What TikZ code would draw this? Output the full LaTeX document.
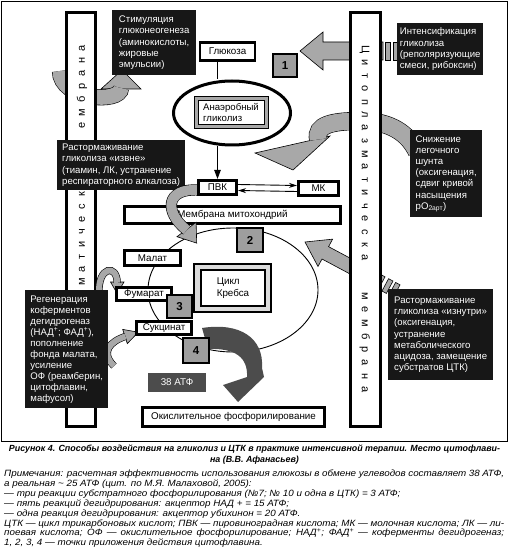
\documentclass[tikz,border=0pt]{standalone}
\usepackage{fontspec}
\setmainfont{Liberation Sans}
\newfontfamily\notefont[FakeStretch=1.08]{Liberation Sans}
\usetikzlibrary{shapes.geometric,arrows.meta}

\definecolor{arrowgray}{gray}{0.66}
\definecolor{numgray}{gray}{0.62}
\definecolor{atpgray}{gray}{0.30}
\definecolor{krebsgray}{gray}{0.86}
\definecolor{boxblack}{gray}{0.09}

\begin{document}
\begin{tikzpicture}[x=1pt,y=-1pt,
		wbox/.style={draw,line width=2.6pt,fill=white,inner sep=0pt,font=\fontsize{9.8}{11}\selectfont},
		bbox/.style={fill=boxblack,text=white,anchor=north west,align=left,inner sep=0pt,font=\fontsize{9.6}{11.2}\selectfont},
		num/.style={draw,line width=1.2pt,fill=numgray,inner sep=0pt,font=\bfseries\fontsize{11.5}{12}\selectfont},
		memb/.style={draw,line width=3.2pt,fill=white,inner sep=0pt},
		letter/.style={inner sep=0pt,text height=7.5pt,text depth=0pt,font=\fontsize{11}{11}\selectfont},
		band/.style={draw=black,line width=0.6pt,double=arrowgray,double distance=#1},
		blockhead/.style={draw=black,line width=0.6pt,fill=arrowgray,line join=miter},
		conn/.style={line width=0.9pt}
	]
	\useasboundingbox (0,0) rectangle (509,548);
	\draw[line width=0.8pt] (1.5,1.5) rectangle (507.5,441);

	% gray arrows behind the membranes
	\draw[blockhead] (101,89) -- (122,70) -- (141,89) -- cycle;
	\draw[band=15pt] (60,71) .. controls (60,100) and (121,104) .. (121,88);
	\draw[blockhead] (300,51) -- (323,32) -- (323,42) -- (383,42) -- (383,60) -- (323,60) -- (323,70) -- cycle;
	\draw[blockhead] (255,153) -- (293,170) -- (330,136) -- cycle;
	\draw[band=17pt] (318.2,139.5) .. controls (315,125) and (332,121) .. (360,121) .. controls (390,121) and (408,133) .. (417,152);
	\begin{scope}[shift={(305,242)},rotate=-28.1]
		\draw[blockhead] (0,0) -- (23,15.5) -- (23,7) -- (87,7) -- (87,-7) -- (23,-7) -- (23,-15.5) -- cycle;
		\draw[blockhead] (91,-7) rectangle (96,7);
		\draw[blockhead] (99,-7) rectangle (104,7);
	\end{scope}

	% membranes
	\node[memb,minimum width=29pt,minimum height=414pt] (lmem) at (81,219.5) {};
	\node[memb,minimum width=30pt,minimum height=414pt] (rmem) at (365.5,219.5) {};
	\foreach \ch [count=\i from 0] in {а,н,а,р,б,м,е}
		\node[letter,rotate=90] (lup\i) at (81,48+12.9*\i) {\ch};
	\foreach \ch [count=\i from 0] in {к,с,е,ч,и,т,а,м}
		\node[letter,rotate=90] (llow\i) at (81,194.5+12.5*\i) {\ch};
	\foreach \ch [count=\i from 0] in {Ц,и,т,о,п,л,а,з,м,а,т,и,ч,е,с,к,а}
		\node[letter,rotate=-90] (rtop\i) at (365.5,50+13*\i) {\ch};
	\foreach \ch [count=\i from 0] in {м,е,м,б,р,а,н,а}
		\node[letter,rotate=-90] (rbot\i) at (365.5,296+13.4*\i) {\ch};
	\draw[blockhead] (385.5,42) rectangle (390,60);
	\draw[blockhead] (393,42) rectangle (397.5,60);

	\node[bbox,minimum width=84pt,minimum height=65pt] (stim) at (112,10) {Стимуляция\\глюконеогенеза\\(аминокислоты,\\жировые\\эмульсии)};
	\node[bbox,minimum width=86pt,minimum height=52pt] (intens) at (397,23) {Интенсификация\\гликолиза\\(реполяризующие\\смеси, рибоксин)};
	\node[bbox,minimum width=72pt,minimum height=87pt] (snizh) at (410,130) {Снижение\\легочного\\шунта\\(оксигенация,\\сдвиг кривой\\насыщения\\pO\textsubscript{2арт})};
	\node[bbox,minimum width=128pt,minimum height=50pt] (rastout) at (57,140) {Растормаживание\\гликолиза «извне»\\(тиамин, ЛК, устранение\\респираторного алкалоза)};
	\node[bbox,minimum width=105pt,minimum height=91pt] (rastin) at (388,289) {Растормаживание\\гликолиза «изнутри»\\(оксигенация,\\устранение\\метаболического\\ацидоза, замещение\\субстратов ЦТК)};

	% glycolysis
	\node[wbox,minimum width=55pt,minimum height=17.5pt] (glu) at (227.5,51.5) {Глюкоза};
	\node[ellipse,draw,line width=3pt,minimum width=117pt,minimum height=64pt,inner sep=0pt] (anaer) at (232,113) {};
	\node[draw,line width=1pt,fill=arrowgray,minimum width=74pt,minimum height=32pt,inner sep=0pt] (anframe) at (231,112.5) {};
	\node[draw,line width=1pt,fill=white,minimum width=66pt,minimum height=24pt,inner sep=0pt,align=left,font=\fontsize{9.6}{10.5}\selectfont] (anin) at (231,112.5) {Анаэробный\\гликолиз};

	% krebs cycle
	\node[ellipse,draw,line width=0.9pt,minimum width=170pt,minimum height=124pt,inner sep=0pt] (loop) at (233,290) {};
	\node[wbox,minimum width=216.5pt,minimum height=17.5pt] (mito) at (232.5,215) {Мембрана митохондрий};
	\draw[blockhead] (176.9,236.7) -- (196.7,243.1) -- (196.1,222.3) -- cycle;
	\draw[band=10pt] (199,190) .. controls (165,188) and (164,212) .. (186.8,230.2);
	\node[wbox,minimum width=38.5pt,minimum height=14.5pt] (pvk) at (217.5,187.5) {ПВК};
	\node[wbox,minimum width=40.5pt,minimum height=14.5pt] (mk) at (318.5,188.5) {МК};

	\draw[blockhead] (110.5,282) -- (117.2,293.5) -- (124,282) -- cycle;
	\draw[band=6pt] (99,293) .. controls (98,266) and (117.2,264) .. (117.2,282.8);
	\draw[blockhead] (127.3,343.6) -- (138.3,332.2) -- (122.7,329.4) -- cycle;
	\draw[band=6pt] (114,366) .. controls (100,352) and (110,341.5) .. (125.5,336.4);
	\node[bbox,minimum width=83pt,minimum height=118pt,font=\fontsize{9.6}{11}\selectfont] (regen) at (25,290) {Регенерация\\коферментов\\дегидрогеназ\\(НАД\textsuperscript{+}; ФАД\textsuperscript{+}),\\пополнение\\фонда малата,\\усиление\\ОФ (реамберин,\\цитофлавин,\\мафусол)};

	\fill[atpgray] (202,328) .. controls (240,322) and (264,338) .. (262,368) -- (264,377) -- (238,402) -- (223,385) -- (247,377) .. controls (248,357) and (235,348) .. (208,349) -- cycle;
	\node[wbox,minimum width=56.5pt,minimum height=15.5pt] (malat) at (152.5,258) {Малат};
	\node[wbox,minimum width=55.5pt,minimum height=13.5pt] (fum) at (144,294) {Фумарат};
	\node[wbox,minimum width=55.5pt,minimum height=13.5pt] (suk) at (164,328) {Сукцинат};
	\node[draw,line width=2.4pt,fill=krebsgray,minimum width=76.5pt,minimum height=47.5pt,inner sep=0pt] (krebs) at (232.5,288) {};
	\node[draw,line width=2.4pt,fill=white,minimum width=63.5pt,minimum height=35.5pt,inner sep=0pt,align=left,font=\fontsize{9.8}{11.5}\selectfont] (krebsin) at (233,288) {Цикл\\Кребса};

	\node[num,minimum width=24pt,minimum height=23pt] (n1) at (285,65.5) {1};
	\node[num,minimum width=26pt,minimum height=24pt] (n2) at (250,240) {2};
	\node[num,minimum width=25pt,minimum height=23pt] (n3) at (179.5,306.5) {3};
	\node[num,minimum width=26pt,minimum height=25pt] (n4) at (196,350.5) {4};
	\node[fill=atpgray,text=white,minimum width=58pt,minimum height=19pt,inner sep=0pt,font=\fontsize{9.8}{11}\selectfont] (atp) at (177,382.5) {38 АТФ};
	\node[wbox,minimum width=182.5pt,minimum height=19.5pt] (oxphos) at (233.5,417) {Окислительное фосфорилирование};

	\draw[conn] (glu.south -| pvk) -- (anaer.north -| pvk);
	\draw[conn,-{Triangle[length=9pt,width=6.5pt]}] (anaer.south -| pvk) -- (pvk.north);
	\draw[conn,-{Stealth[length=8pt,width=5pt]}] ([yshift=3pt]pvk.east) -- ([yshift=3pt]mk.west);
	\draw[conn,-{Stealth[length=8pt,width=5pt]}] ([yshift=-3pt]mk.west) -- ([yshift=-3pt]pvk.east);

	\node[inner sep=0pt,anchor=north] (caption) at (254.5,445) {\parbox{502pt}{\centering\bfseries\itshape\fontsize{8.9}{10.8}\selectfont Рисунок 4. Способы воздействия на гликолиз и ЦТК в практике интенсивной терапии. Место цитофлави-\\на (В.В. Афанасьев)}};
	\node[inner sep=0pt,anchor=north west] (notes) at (4,470) {\parbox{500pt}{\notefont\itshape\fontsize{9.1}{9.85}\selectfont
		Примечания: расчетная эффективность использования глюкозы в обмене углеводов составляет 38 АТФ,\linebreak
		а реальная \textasciitilde{} 25 АТФ (цит. по М.Я. Малаховой, 2005):\\
		— три реакции субстратного фосфорилирования (№7; № 10 и одна в ЦТК) = 3 АТФ;\\
		— пять реакций дегидрирования: акцептор НАД + = 15 АТФ;\\
		— одна реакция дегидрирования: акцептор убихинон = 20 АТФ.\\
		ЦТК — цикл трикарбоновых кислот; ПВК — пировиноградная кислота; МК — молочная кислота; ЛК — ли-\linebreak
		поевая кислота; ОФ — окислительное фосфорилирование; НАД\textsuperscript{+}; ФАД\textsuperscript{+} — коферменты дегидрогеназ;\linebreak
		1, 2, 3, 4 — точки приложения действия цитофлавина.}};
\end{tikzpicture}
\end{document}
